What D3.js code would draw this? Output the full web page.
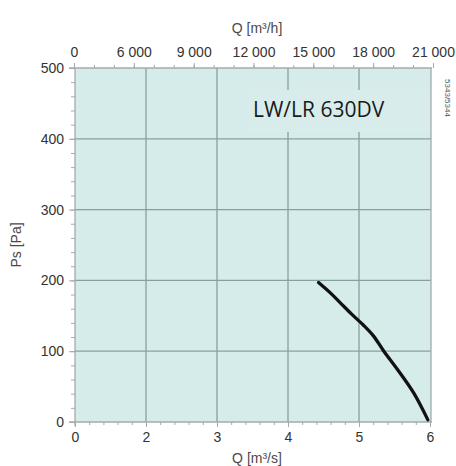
<!DOCTYPE html>
<html>
<head>
<meta charset="utf-8">
<script src="https://d3js.org/d3.v7.min.js"></script>
<style>
  body { margin: 0; background: #fff; }
  text { font-family: "Liberation Sans", Arial, sans-serif; fill: #333; }
</style>
</head>
<body>
<svg id="chart" width="456" height="466"></svg>
<script>
// curve: flow in m3/s, static pressure in Pa
var flowQs = [4.43, 4.6, 4.74, 4.9, 5.06, 5.2, 5.35, 5.55, 5.77, 5.97];
var pressurePs = [197, 182, 168, 152, 137, 122, 100, 73, 41, 3];

var bottomTicks = [1, 2, 3, 4, 5, 6];
var bottomLabels = ["0", "2", "3", "4", "5", "6"];
var topTicks = [3000, 6000, 9000, 12000, 15000, 18000, 21000];
var topLabels = ["0", "6 000", "9 000", "12 000", "15 000", "18 000", "21 000"];
var yTicks = [0, 100, 200, 300, 400, 500];

var svg = d3.select("#chart");
var plotL = 75, plotR = 431, plotT = 68, plotB = 422;

var x = d3.scaleLinear().domain([1, 6]).range([plotL, 430]);
var xTop = d3.scaleLinear().domain([3000, 21000]).range([plotL - 1, 433]);
var y = d3.scaleLinear().domain([0, 500]).range([plotB, plotT]);

// plot background
svg.append("rect")
    .attr("x", plotL).attr("y", plotT)
    .attr("width", plotR - plotL).attr("height", plotB - plotT)
    .attr("fill", "#d5ecea");

// grid
var grid = svg.append("g").attr("stroke", "#87a09e").attr("stroke-width", 1.3);
grid.selectAll(".v").data(bottomTicks.slice(1, 5)).enter().append("line")
    .attr("x1", function (d) { return x(d); }).attr("x2", function (d) { return x(d); })
    .attr("y1", plotT).attr("y2", plotB);
grid.selectAll(".h").data(yTicks.slice(1, 5)).enter().append("line")
    .attr("x1", plotL).attr("x2", plotR)
    .attr("y1", function (d) { return y(d); }).attr("y2", function (d) { return y(d); });

// model label box covers part of the grid
svg.append("rect")
    .attr("x", 246).attr("y", 90).attr("width", plotR - 246).attr("height", 42)
    .attr("fill", "#d8edeb");
svg.append("text")
    .attr("x", 253).attr("y", 117)
    .style("font-family", "'Open Sans', sans-serif")
    .style("font-size", "21px")
    .style("fill", "#1a1a1a")
    .text("LW/LR 630DV");

// axes frame
var axisColor = "#a3abab";
var frame = svg.append("g").attr("stroke", axisColor).attr("stroke-width", 1.3);
frame.append("line").attr("x1", plotL - 6).attr("x2", plotR + 1).attr("y1", plotB).attr("y2", plotB);
frame.append("line").attr("x1", plotL - 6).attr("x2", plotR + 1).attr("y1", plotT).attr("y2", plotT);
frame.append("line").attr("x1", plotL).attr("x2", plotL).attr("y1", plotT).attr("y2", plotB + 4);
frame.append("line").attr("x1", plotR).attr("x2", plotR).attr("y1", plotT).attr("y2", plotB);

// bottom axis, minor ticks every 0.2
svg.append("g").attr("transform", "translate(0," + plotB + ")")
    .call(d3.axisBottom(x).tickValues(d3.range(1, 6.01, 0.2)).tickSize(3).tickFormat(""))
    .call(function (g) { g.select(".domain").remove(); g.selectAll("line").attr("stroke", axisColor); });
svg.append("g").attr("transform", "translate(0," + plotB + ")")
    .call(d3.axisBottom(x).tickValues(bottomTicks).tickSize(5)
        .tickFormat(function (d, i) { return bottomLabels[i]; }))
    .call(function (g) {
        g.select(".domain").remove();
        g.selectAll("line").attr("stroke", axisColor);
        g.selectAll("text").attr("y", 10).style("font-size", "14px").style("fill", "#333");
    });

// top axis, minor ticks every 1000
svg.append("g").attr("transform", "translate(0," + plotT + ")")
    .call(d3.axisTop(xTop).tickValues(d3.range(3000, 21001, 1000)).tickSize(3).tickFormat(""))
    .call(function (g) { g.select(".domain").remove(); g.selectAll("line").attr("stroke", axisColor); });
svg.append("g").attr("transform", "translate(0," + plotT + ")")
    .call(d3.axisTop(xTop).tickValues(topTicks).tickSize(5)
        .tickFormat(function (d, i) { return topLabels[i]; }))
    .call(function (g) {
        g.select(".domain").remove();
        g.selectAll("line").attr("stroke", axisColor);
        g.selectAll("text").attr("y", -11).style("font-size", "14px").style("fill", "#333");
    });

// left axis, minor ticks every 20
svg.append("g").attr("transform", "translate(" + plotL + ",0)")
    .call(d3.axisLeft(y).tickValues(d3.range(0, 501, 20)).tickSize(4).tickFormat(""))
    .call(function (g) { g.select(".domain").remove(); g.selectAll("line").attr("stroke", axisColor); });
svg.append("g").attr("transform", "translate(" + plotL + ",0)")
    .call(d3.axisLeft(y).tickValues(yTicks).tickSize(6))
    .call(function (g) {
        g.select(".domain").remove();
        g.selectAll("line").attr("stroke", axisColor);
        g.selectAll("text").attr("x", -11).style("font-size", "14px").style("fill", "#333");
    });

// axis titles
svg.append("text").attr("x", 257).attr("y", 33).attr("text-anchor", "middle")
    .style("font-size", "14px").style("fill", "#4a4a4a").text("Q [m³/h]");
svg.append("text").attr("x", 257).attr("y", 463).attr("text-anchor", "middle")
    .style("font-size", "14px").style("fill", "#4a4a4a").text("Q [m³/s]");
svg.append("text").attr("transform", "translate(21,245) rotate(-90)").attr("text-anchor", "middle")
    .style("font-size", "14px").style("fill", "#4a4a4a").text("Ps [Pa]");
svg.append("text").attr("transform", "translate(445,98) rotate(90)").attr("text-anchor", "middle")
    .style("font-size", "8px").style("fill", "#555").text("5343/5344");

// fan curve
var curve = d3.line()
    .x(function (d, i) { return x(flowQs[i]); })
    .y(function (d) { return y(d); })
    .curve(d3.curveCatmullRom);
svg.append("path")
    .datum(pressurePs)
    .attr("d", curve)
    .attr("fill", "none")
    .attr("stroke", "#111")
    .attr("stroke-width", 3.3)
    .attr("stroke-linecap", "round");
</script>
</body>
</html>
